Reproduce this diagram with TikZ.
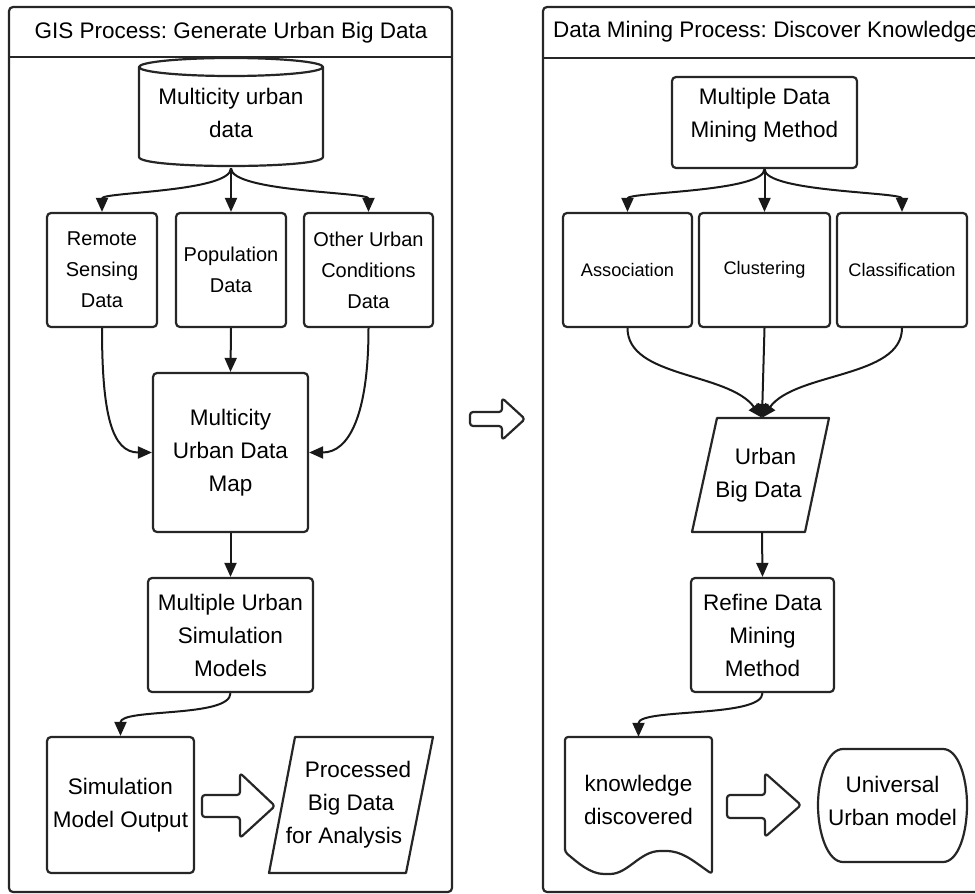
\documentclass[tikz,border=0pt]{standalone}
\usepackage{fontspec}
\setmainfont{Liberation Sans}
\usetikzlibrary{arrows.meta,calc}
\frenchspacing

% text sizes used in the chart
\newcommand\mainfs{\fontsize{22.5}{33}\selectfont}
\newcommand\midfs{\fontsize{20}{31}\selectfont}
\newcommand\smallfs{\fontsize{18.2}{24}\selectfont}

\begin{document}
\begin{tikzpicture}[x=1pt,y=-1pt,
  line join=round,
  outline/.style={draw=black!85, line width=2.2pt},
  panel/.style={outline, rounded corners=4pt},
  stepbox/.style={outline, rounded corners=4pt, align=center, inner sep=0pt, font=\mainfs},
  txt/.style={align=center, inner sep=0pt, font=\mainfs},
  flow/.style={draw=black!90, line width=2pt, -{Triangle[length=14pt,width=12pt]}},
  fat/.style={outline, rounded corners=3pt, fill=white},
]
\clip (0,0) rectangle (975,894);

% ---------- swimlane frames ----------
\draw[panel] (9,7) rectangle (452,892);
\draw[outline] (9,57) -- (452,57);
\draw[panel] (543,7) rectangle (1010,892);
\draw[outline] (543,58) -- (1010,58);
\node[txt, anchor=base] (t1) at (231,38) {GIS Process: Generate Urban Big Data};
\node[txt, anchor=base west] (t2) at (553,37) {Data Mining Process: Discover Knowledge};

% ---------- GIS lane ----------
% database cylinder
\draw[outline, fill=white] (139,67) -- (139,157) .. controls (139,169) and (323,169) .. (323,157) -- (323,67);
\draw[outline] (231,67) ellipse [x radius=92pt, y radius=9pt];
\node[txt, minimum width=184pt, minimum height=110pt] (mud) at (231,113) {Multicity urban\\data};

\node[stepbox, font=\midfs, minimum width=110pt, minimum height=114pt] (rs) at (102,270) {Remote\\Sensing\\Data};
\node[stepbox, font=\midfs, minimum width=110pt, minimum height=114pt] (pop) at (231,270) {Population\\Data};
\node[stepbox, font=\midfs, minimum width=129pt, minimum height=114pt] (oth) at (368.5,270) {Other Urban\\Conditions\\Data};
\node[stepbox, minimum width=155pt, minimum height=159pt] (map) at (230.5,452.5) {Multicity\\Urban Data\\Map};
\node[stepbox, minimum width=165pt, minimum height=114pt] (usm) at (230.5,635) {Multiple Urban\\Simulation\\Models};
\node[stepbox, minimum width=147pt, minimum height=136pt] (smo) at (120.5,805) {Simulation\\Model Output};

% data parallelogram
\draw[outline] (295,737) -- (433,737) -- (406,873) -- (269,873) -- cycle;
\node[txt, minimum width=160pt, minimum height=136pt] (pbd) at (351,805)
  {\hspace*{14pt}Processed\\Big Data\\for Analysis\hspace*{14pt}};

\draw[flow] (mud.south) .. controls (231,192) and (102,192) .. (rs.north);
\draw[flow] (mud.south) -- (pop.north);
\draw[flow] (mud.south) .. controls (231,192) and (368.5,192) .. (oth.north);
\draw[flow] (rs.south) .. controls (102,415) and (112,452.5) .. (map.west);
\draw[flow] (pop.south) -- (map.north);
\draw[flow] (oth.south) .. controls (368.5,415) and (349,452.5) .. (map.east);
\draw[flow] (map.south) -- (usm.north);
\draw[flow] (usm.south) .. controls (230.5,718) and (120.5,708) .. (smo.north);

% hollow block arrow inside the lane
\draw[fat] (202,795) -- (240,795) -- (240,773) -- (275,806) -- (240,838) -- (240,817) -- (202,817) -- cycle;

% hollow block arrow between the lanes
\draw[fat] (470,412) -- (502,412) -- (502,398) -- (525,419) -- (502,440) -- (502,426) -- (470,426) -- cycle;

% ---------- data mining lane ----------
\node[stepbox, minimum width=185pt, minimum height=91pt] (mdm) at (764.5,122.5) {};
\node[txt] (mdmtext) at (764.5,115) {Multiple Data\\Mining Method};
\node[stepbox, font=\smallfs, minimum width=129pt, minimum height=114pt] (asc) at (627.5,270) {Association};
\node[stepbox, font=\smallfs, minimum width=131pt, minimum height=114pt] (clu) at (764.5,270) {Clustering};
\node[stepbox, font=\smallfs, minimum width=130pt, minimum height=114pt] (cls) at (902,270) {Classification};

\draw[outline] (717,418) -- (829,418) -- (805,532) -- (692,532) -- cycle;
\node[txt, minimum width=110pt, minimum height=114pt] (ubd) at (762,475) {\hspace*{7pt}Urban\\Big Data\hspace*{7pt}};

\node[stepbox, minimum width=143pt, minimum height=114pt] (rdm) at (762.5,635) {Refine Data\\Mining\\Method};

% document shape
\draw[outline, rounded corners=3pt] (565,852) -- (565,737) -- (712,737) -- (712,874)
  .. controls (692,860) and (682,851) .. (663,851)
  .. controls (640,851) and (628,874) .. (607,874)
  .. controls (590,874) and (577,862) .. (565,852) -- cycle;
\node[txt, minimum width=147pt, minimum height=126pt] (kd) at (638.5,800) {knowledge\\discovered};

% terminal shape
\draw[outline] (843,749) -- (943,749) .. controls (958,749) and (967,777) .. (967,805)
  .. controls (967,834) and (958,862) .. (943,862) -- (843,862)
  .. controls (828,862) and (818,834) .. (818,805)
  .. controls (818,777) and (828,749) .. (843,749) -- cycle;
\node[txt, minimum width=149pt, minimum height=113pt] (uum) at (892.5,801) {Universal\\Urban model};

\draw[flow] (mdm.south) .. controls (764.5,192) and (627.5,192) .. (asc.north);
\draw[flow] (mdm.south) -- (clu.north);
\draw[flow] (mdm.south) .. controls (764.5,192) and (902,192) .. (cls.north);
\draw[flow] (asc.south) .. controls (627.5,378) and (728,372) .. (ubd.north);
\draw[flow] (clu.south) -- (ubd.north);
\draw[flow] (cls.south) .. controls (902,378) and (796,372) .. (ubd.north);
\draw[flow] (ubd.south) -- (rdm.north);
\draw[flow] (rdm.south) .. controls (762.5,718) and (638.5,708) .. (kd.north);

\draw[fat] (727,795) -- (765,795) -- (765,773) -- (801,805) -- (765,837) -- (765,818) -- (727,818) -- cycle;
\end{tikzpicture}
\end{document}
